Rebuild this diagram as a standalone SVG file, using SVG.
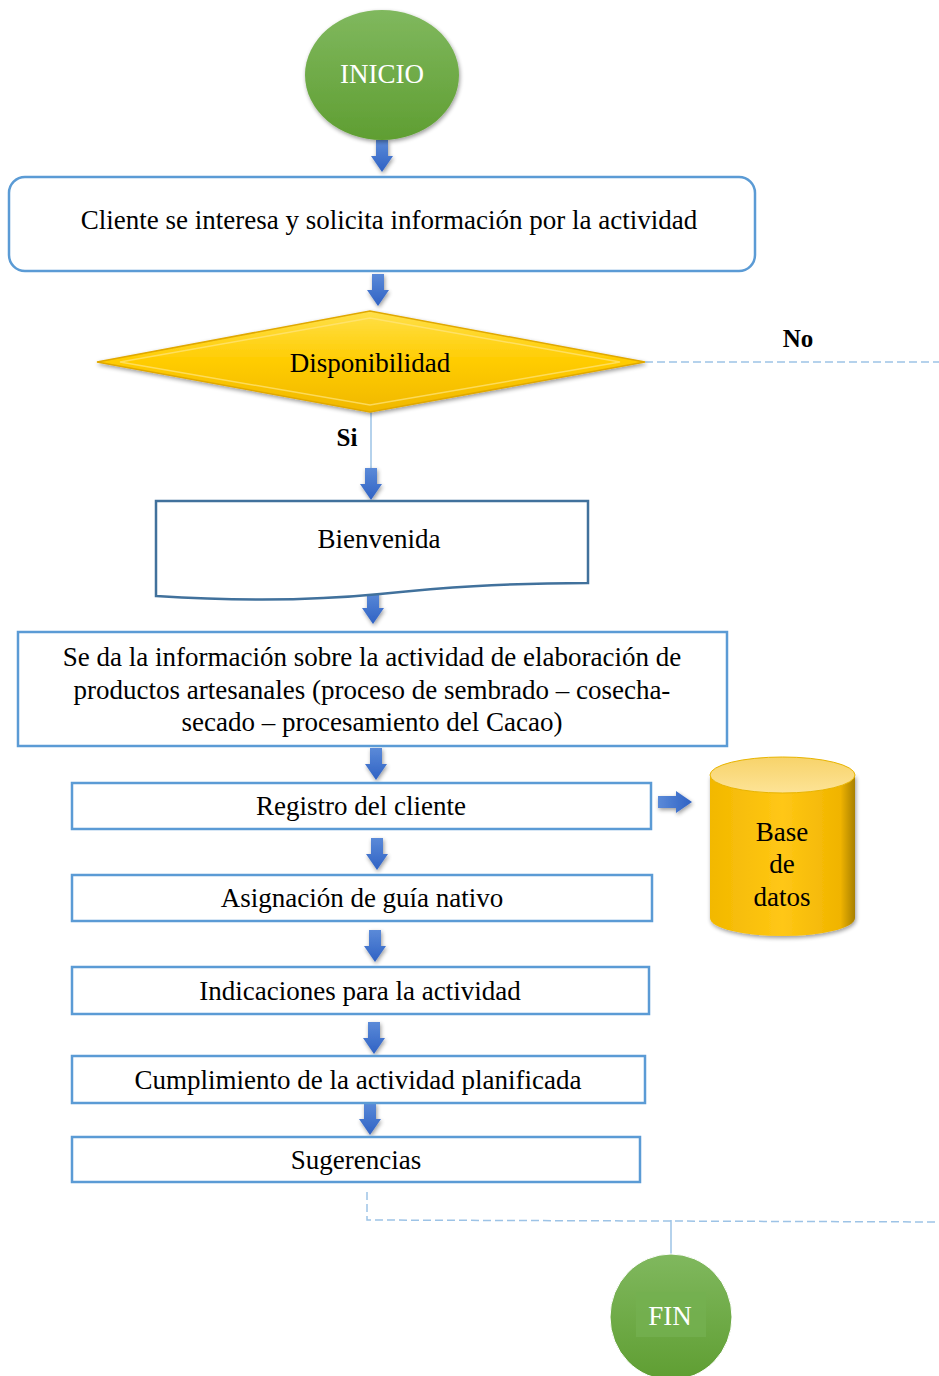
<svg xmlns="http://www.w3.org/2000/svg" width="939" height="1376" viewBox="0 0 939 1376">
<defs>
<linearGradient id="gGreen" x1="0" y1="0" x2="0" y2="1"><stop offset="0" stop-color="#80b85e"/><stop offset="1" stop-color="#5f9e32"/></linearGradient>
<linearGradient id="gGold" x1="0" y1="0" x2="0" y2="1"><stop offset="0" stop-color="#ffe04a"/><stop offset="0.5" stop-color="#ffcc00"/><stop offset="1" stop-color="#f0b800"/></linearGradient>
<linearGradient id="gCyl" x1="0" y1="0" x2="1" y2="0"><stop offset="0" stop-color="#f2b800"/><stop offset="0.5" stop-color="#ffc715"/><stop offset="0.9" stop-color="#f0b400"/><stop offset="1" stop-color="#a88000"/></linearGradient>
<linearGradient id="gCylTop" x1="0" y1="0" x2="0" y2="1"><stop offset="0" stop-color="#f7d36a"/><stop offset="1" stop-color="#fde396"/></linearGradient>
<linearGradient id="gArrow" x1="0" y1="0" x2="0" y2="1"><stop offset="0" stop-color="#5b8ad8"/><stop offset="1" stop-color="#2f62c4"/></linearGradient>
<linearGradient id="gArrowH" x1="0" y1="0" x2="1" y2="0"><stop offset="0" stop-color="#5b8ad8"/><stop offset="1" stop-color="#2f62c4"/></linearGradient>
<filter id="sh" x="-20%" y="-20%" width="140%" height="140%"><feGaussianBlur in="SourceAlpha" stdDeviation="2"/><feOffset dx="1" dy="2"/><feComponentTransfer><feFuncA type="linear" slope="0.4"/></feComponentTransfer><feMerge><feMergeNode/><feMergeNode in="SourceGraphic"/></feMerge></filter>
<path id="dArrow" d="M-6,0 H6 V16 H11 L0,32 L-11,16 H-6 Z"/>
</defs>
<style>
.t{font-family:"Liberation Serif","Times New Roman",serif;font-size:27px;fill:#000;text-anchor:middle}
.w{font-family:"Liberation Serif","Times New Roman",serif;font-size:27px;fill:#fff;text-anchor:middle}
.b{font-family:"Liberation Serif","Times New Roman",serif;font-size:25px;font-weight:bold;fill:#000;text-anchor:middle}
.box{fill:#fff;stroke:#5b9bd5;stroke-width:2.5}
.arr{fill:url(#gArrow)}
.dash{fill:none;stroke:#9dc3e6;stroke-width:1.5;stroke-dasharray:8 4}
</style>
<rect width="939" height="1376" fill="#fff"/>

<g id="connectors">
  <use href="#dArrow" x="382" y="140" class="arr" filter="url(#sh)"/>
  <use href="#dArrow" x="378" y="274" class="arr" filter="url(#sh)"/>
  <line x1="371" y1="412" x2="371" y2="470" stroke="#9dc3e6" stroke-width="1.5"/>
  <use href="#dArrow" x="371" y="468" class="arr" filter="url(#sh)"/>
  <use href="#dArrow" x="373" y="592" class="arr" filter="url(#sh)"/>
  <use href="#dArrow" x="376" y="748" class="arr" filter="url(#sh)"/>
  <path d="M658,796 H676 V791 L692,802 L676,813 V808 H658 Z" fill="url(#gArrowH)" filter="url(#sh)"/>
  <use href="#dArrow" x="377" y="838" class="arr" filter="url(#sh)"/>
  <use href="#dArrow" x="375" y="930" class="arr" filter="url(#sh)"/>
  <use href="#dArrow" x="374" y="1022" class="arr" filter="url(#sh)"/>
  <use href="#dArrow" x="370" y="1103" class="arr" filter="url(#sh)"/>
  <line x1="645" y1="362" x2="939" y2="362" class="dash"/>
  <text x="798" y="347" class="b">No</text>
  <text x="347" y="446" class="b">Si</text>
  <polyline points="367,1192 367,1220 939,1222" class="dash"/>
  <line x1="671" y1="1220" x2="671" y2="1256" stroke="#9dc3e6" stroke-width="1.5"/>
</g>

<g id="inicio">
  <ellipse cx="382" cy="75" rx="77" ry="65" fill="url(#gGreen)" filter="url(#sh)"/>
  <text x="382" y="83" class="w">INICIO</text>
</g>

<g id="cliente">
  <rect x="9" y="177" width="746" height="94" rx="16" class="box"/>
  <text x="389" y="229" class="t">Cliente se interesa y solicita información por la actividad</text>
</g>

<g id="disponibilidad">
  <polygon points="97,362 370,311 645,362 370,412" fill="url(#gGold)" stroke="#e0a800" stroke-width="1.5" filter="url(#sh)"/>
  <polygon points="120,362 370,318 620,362 370,405" fill="none" stroke="#ffe680" stroke-width="1.5" opacity="0.7"/>
  <text x="370" y="372" class="t">Disponibilidad</text>
</g>

<g id="bienvenida">
  <path d="M156,501 H588 V583 C500,583 440,588 380,594 C300,602 220,600 156,596 Z" fill="#fff" stroke="#41719c" stroke-width="2.5"/>
  <text x="379" y="548" class="t">Bienvenida</text>
</g>

<g id="informacion">
  <rect x="18" y="632" width="709" height="114" class="box"/>
  <text x="372" y="666" class="t">Se da la información sobre la actividad de elaboración de</text>
  <text x="372" y="699" class="t">productos artesanales (proceso de sembrado – cosecha-</text>
  <text x="372" y="731" class="t">secado – procesamiento del Cacao)</text>
</g>

<g id="registro">
  <rect x="72" y="783" width="579" height="46" class="box"/>
  <text x="361" y="815" class="t">Registro del cliente</text>
</g>

<g id="basedatos">
  <path d="M710,775 V918 A72.5,18 0 0 0 855,918 V775 Z" fill="url(#gCyl)" filter="url(#sh)"/>
  <ellipse cx="782.5" cy="775" rx="72.5" ry="18" fill="url(#gCylTop)" stroke="#e8b400" stroke-width="1"/>
  <text x="782" y="841" class="t">Base</text>
  <text x="782" y="873" class="t">de</text>
  <text x="782" y="906" class="t">datos</text>
</g>

<g id="asignacion">
  <rect x="72" y="875" width="580" height="46" class="box"/>
  <text x="362" y="907" class="t">Asignación de guía nativo</text>
</g>

<g id="indicaciones">
  <rect x="72" y="967" width="577" height="47" class="box"/>
  <text x="360" y="1000" class="t">Indicaciones para la actividad</text>
</g>

<g id="cumplimiento">
  <rect x="72" y="1056" width="573" height="47" class="box"/>
  <text x="358" y="1089" class="t">Cumplimiento de la actividad planificada</text>
</g>

<g id="sugerencias">
  <rect x="72" y="1137" width="568" height="45" class="box"/>
  <text x="356" y="1169" class="t">Sugerencias</text>
</g>

<g id="fin">
  <ellipse cx="671" cy="1317" rx="61" ry="63" fill="url(#gGreen)" stroke="#fff" stroke-width="1"/>
  <rect x="636" y="1292" width="70" height="45" fill="#74b050" opacity="0.8"/>
  <text x="670" y="1325" class="w">FIN</text>
</g>
</svg>
